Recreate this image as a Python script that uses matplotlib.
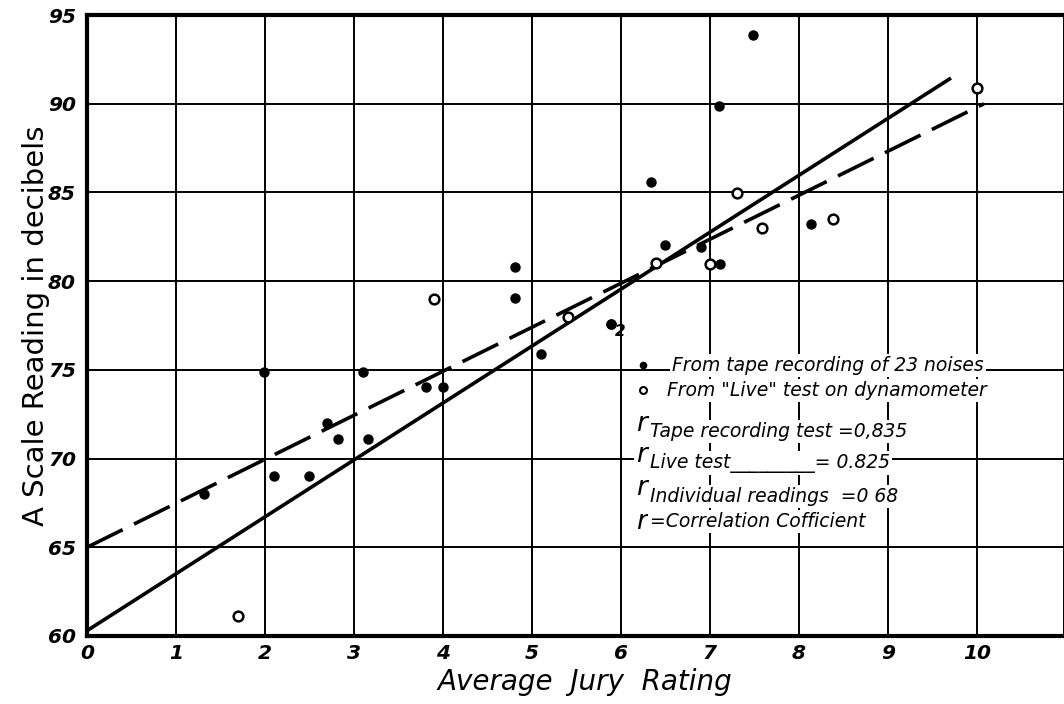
import numpy as np
from matplotlib import pyplot as plt

# テープ録音 (黒丸)
tape_x = [1.31, 1.99, 3.10, 2.70, 2.82, 3.16, 2.10, 2.50, 3.81, 4.00, 5.10,
          4.81, 4.81, 7.49, 7.10, 6.34, 8.14, 6.50, 6.90, 7.11, 5.89, 5.89]
tape_y = [68.0, 74.9, 74.9, 72.0, 71.1, 71.1, 69.0, 69.0, 74.05, 74.05, 75.9,
          80.8, 79.05, 93.9, 89.9, 85.6, 83.25, 82.05, 81.95, 80.95, 77.6, 77.6]

# ライブ試験 (白丸)
live_x = [5.41, 1.70, 3.90, 10.0, 7.30, 7.59, 8.38, 6.40, 7.00]
live_y = [78.0, 61.1, 79.0, 90.9, 84.95, 83.0, 83.5, 81.05, 80.95]

# 回帰直線の端点
tape_line_x = [0.0, 9.71]
tape_line_y = [60.3, 91.45]
live_line_x = [0.0, 10.08]
live_line_y = [65.0, 90.0]

x_ticks = list(range(0, 11))
y_ticks = list(range(60, 100, 5))

legend_rows = ["Tape recording test =0,835",
               "Live test_________= 0.825",
               "Individual readings  =0 68"]


def main():
    fig = plt.figure(figsize=(10.64, 7.04), dpi=100)
    ax = fig.add_axes([0.0818, 0.0966, 0.9182, 0.882])

    ax.set_xlim(0, 10.98)
    ax.set_ylim(60, 95)
    ax.set_xticks(x_ticks)
    ax.set_yticks(y_ticks)
    ax.grid(True, color="black", linewidth=1.4)
    ax.set_axisbelow(True)
    ax.tick_params(length=0, labelsize=14.5)
    ax.tick_params(axis="y", pad=8)
    ax.tick_params(axis="x", pad=6)
    for lab in ax.get_xticklabels() + ax.get_yticklabels():
        lab.set_fontstyle("italic")
        lab.set_fontweight("bold")
    for side in ["left", "bottom", "top"]:
        ax.spines[side].set_linewidth(3)
    ax.spines["right"].set_linewidth(1.4)

    # 回帰直線
    ax.plot(tape_line_x, tape_line_y, color="black", lw=2.6, solid_capstyle="butt")
    ax.plot(live_line_x, live_line_y, color="black", lw=2.6,
            dashes=(11, 3.5), dash_capstyle="butt")

    # 測定点
    ax.plot(tape_x, tape_y, "o", color="black", ms=6.5, ls="none")
    ax.plot(live_x, live_y, "o", mfc="white", mec="black", mew=1.8, ms=7, ls="none")
    ax.annotate("2", (5.89, 77.6), xytext=(3, -9), textcoords="offset points",
                fontsize=11, fontweight="bold", fontstyle="italic")

    ax.set_xlabel("Average  Jury  Rating", fontsize=20, fontstyle="italic")
    ax.xaxis.set_label_coords(0.51, -0.052)
    ax.set_ylabel("A Scale Reading in decibels", fontsize=21)
    ax.yaxis.set_label_coords(-0.038, 0.5)

    # 凡例 (手書き風)
    bb = dict(facecolor="white", edgecolor="none", pad=1.5)
    t = ax.transAxes
    ax.plot([0.569], [0.436], "o", color="black", ms=4.5, transform=t)
    ax.plot([0.569], [0.396], "o", mfc="white", mec="black", mew=1.5, ms=5, transform=t)
    ax.text(0.599, 0.436, "From tape recording of 23 noises", transform=t,
            fontsize=13.5, fontstyle="italic", va="center", bbox=bb)
    ax.text(0.594, 0.396, "From \"Live\" test on dynamometer", transform=t,
            fontsize=13.5, fontstyle="italic", va="center", bbox=bb)

    for yy, s in zip([0.342, 0.292, 0.238], legend_rows):
        ax.text(0.562, yy, "r", transform=t, fontsize=19, fontstyle="italic",
                va="center", bbox=bb)
        ax.text(0.576, yy - 0.013, s, transform=t, fontsize=13.5,
                fontstyle="italic", va="center", bbox=bb)
    ax.text(0.562, 0.184, "r", transform=t, fontsize=19, fontstyle="italic",
            va="center", bbox=bb)
    ax.text(0.576, 0.184, "=Correlation Cofficient", transform=t, fontsize=13.5,
            fontstyle="italic", va="center", bbox=bb)

    fig.savefig("out.png", dpi=100)


if __name__ == "__main__":
    main()
